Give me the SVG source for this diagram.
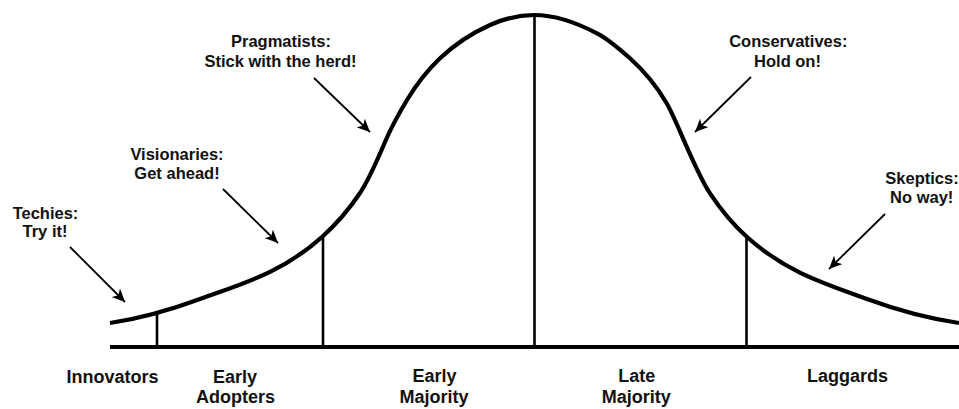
<svg xmlns="http://www.w3.org/2000/svg" width="959" height="409" viewBox="0 0 959 409">
<style>
  .lbl { font-family: "Liberation Sans", Arial, sans-serif; font-weight: bold; font-size: 16.5px; fill: #111; text-anchor: middle; }
  .cat { font-family: "Liberation Sans", Arial, sans-serif; font-weight: bold; font-size: 18px; fill: #111; text-anchor: middle; }
  .curve { fill: none; stroke: #000; stroke-width: 4.2; stroke-linecap: butt; stroke-linejoin: round; }
  .div { stroke: #000; stroke-width: 2.6; }
  .base { stroke: #000; stroke-width: 4.2; }
  .arr { stroke: #000; stroke-width: 1.8; fill: none; marker-end: url(#ah); }
</style>
<defs>
  <marker id="ah" markerUnits="userSpaceOnUse" markerWidth="14" markerHeight="12" viewBox="0 0 14 12" refX="13" refY="6" orient="auto">
    <path d="M0,0 L13,6 L0,12 L3.5,6 Z" fill="#000"/>
  </marker>
</defs>
<rect width="959" height="409" fill="#fff"/>
<g id="connectors">
  <path class="curve" d="M110,323 C140,318.5 170,310.1 200,299 C240.7,284 281.3,273.6 322,237 C334.7,225.6 347.3,212 360,193 C368.3,180.5 376.7,161.6 385,142 C392.3,124.8 399.7,112.1 407,100 C418,81.8 429,68.8 440,58.3 C456.7,42.5 473.3,32.5 490,25 C504.7,18.4 519.3,15 534.5,15 C555,15 576,22.4 597,33.3 C608,39 619,48.4 630,58.3 C642.2,69.3 654.5,82.5 666.7,103.3 C673.4,115.3 680,131.7 686.7,146.7 C694.5,164.2 702.2,181.6 710,193.3 C722.3,211.8 734.7,225.9 747,237 C787,273 827,284.2 867,299 C897.7,310.3 928.3,318.4 959,323"/>
  <line class="base" x1="110" y1="347" x2="959" y2="347"/>
  <line class="div" x1="157" y1="314" x2="157" y2="347"/>
  <line class="div" x1="323" y1="236" x2="323" y2="347"/>
  <line class="div" x1="534.5" y1="13" x2="534.5" y2="347"/>
  <line class="div" x1="746.5" y1="236" x2="746.5" y2="347"/>
  <line class="arr" x1="70" y1="247" x2="125" y2="302"/>
  <line class="arr" x1="223" y1="189" x2="278" y2="243"/>
  <line class="arr" x1="314" y1="78" x2="370" y2="132"/>
  <line class="arr" x1="751" y1="77" x2="695" y2="132"/>
  <line class="arr" x1="885" y1="214" x2="829" y2="269"/>
</g>
<g id="techies">
  <text class="lbl" x="45.5" y="218.5">Techies:</text>
  <text class="lbl" x="45" y="237">Try it!</text>
</g>
<g id="visionaries">
  <text class="lbl" x="177" y="159.5">Visionaries:</text>
  <text class="lbl" x="177" y="178.5">Get ahead!</text>
</g>
<g id="pragmatists">
  <text class="lbl" x="281" y="46.7">Pragmatists:</text>
  <text class="lbl" x="280.5" y="66.5">Stick with the herd!</text>
</g>
<g id="conservatives">
  <text class="lbl" x="788.3" y="46.7">Conservatives:</text>
  <text class="lbl" x="787.5" y="66.5">Hold on!</text>
</g>
<g id="skeptics">
  <text class="lbl" x="922" y="184">Skeptics:</text>
  <text class="lbl" x="921.7" y="202.5">No way!</text>
</g>
<g id="innovators">
  <text class="cat" x="112.5" y="382.5">Innovators</text>
</g>
<g id="early-adopters">
  <text class="cat" x="235" y="382.5">Early</text>
  <text class="cat" x="235.5" y="403.3">Adopters</text>
</g>
<g id="early-majority">
  <text class="cat" x="434.5" y="382">Early</text>
  <text class="cat" x="434" y="403.3">Majority</text>
</g>
<g id="late-majority">
  <text class="cat" x="636.8" y="382">Late</text>
  <text class="cat" x="636.2" y="403.3">Majority</text>
</g>
<g id="laggards">
  <text class="cat" x="847.5" y="382">Laggards</text>
</g>
</svg>
